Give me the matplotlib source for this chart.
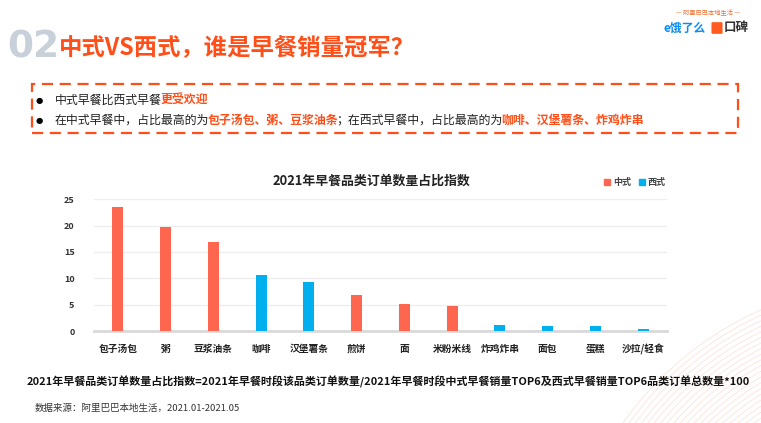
import matplotlib
matplotlib.use('Agg')
import matplotlib.pyplot as plt
from matplotlib.patches import Rectangle, FancyBboxPatch, Circle

plt.rcParams['font.family'] = ['Noto Sans CJK SC', 'DejaVu Sans']

# data
categories = ['包子汤包', '粥', '豆浆油条', '咖啡', '汉堡薯条', '煎饼', '面',
              '米粉米线', '炸鸡炸串', '面包', '蛋糕', '沙拉/轻食']
values = [23.5, 19.7, 16.9, 10.6, 9.3, 6.8, 5.1, 4.7, 1.1, 0.9, 0.9, 0.3]
kinds = ['中式', '中式', '中式', '西式', '西式', '中式', '中式', '中式',
         '西式', '西式', '西式', '西式']
yticks = [0, 5, 10, 15, 20, 25]

RED = '#FF6650'
BLUE = '#00B0EE'
ACCENT = '#FF4E17'
DARK = '#222222'
colors = {'中式': RED, '西式': BLUE}

fig = plt.figure(figsize=(7.61, 4.23), dpi=100)

# faint decorative arcs, bottom right
bg = fig.add_axes([0, 0, 1, 1], zorder=-1)
bg.set_xlim(0, 761)
bg.set_ylim(423, 0)
bg.axis('off')
for r in range(120, 345, 5):
    bg.add_patch(Circle((900, 620), r, fill=False, edgecolor='#FCE4DC',
                        linewidth=0.6))

# header
fig.text(7 / 761, 1 - 48 / 423, '02', fontsize=27, fontweight='bold',
         color='#C8D1D9', va='center', family='DejaVu Sans')
fig.text(59 / 761, 1 - 48 / 423, '中式VS西式，谁是早餐销量冠军？', fontsize=16.8,
         fontweight='bold', color=ACCENT, va='center')

# logo (rough)
fig.text(708 / 761, 1 - 13 / 423, '— 阿里巴巴本地生活 —', fontsize=4.5,
         color='#F07030', ha='center', va='center')
fig.text(664 / 761, 1 - 28 / 423, 'e饿了么', fontsize=8.5, fontweight='bold',
         color='#0C8CF0', ha='left', va='center')
fig.add_artist(FancyBboxPatch((713 / 761, 1 - 33 / 423), 8 / 761, 10 / 423,
                              boxstyle='round,pad=0.002', transform=fig.transFigure,
                              facecolor='#FF5A1F', edgecolor='none'))
fig.text(724 / 761, 1 - 28 / 423, '口碑', fontsize=9, fontweight='bold',
         color='#333333', ha='left', va='center')

# dashed box
box = Rectangle((32 / 761, 1 - 133 / 423), (738 - 32) / 761, (133 - 84) / 423,
                transform=fig.transFigure, fill=False, edgecolor=ACCENT,
                linewidth=1.6, linestyle=(0, (5, 3)))
fig.add_artist(box)


def rich(x, y, parts, size=8.6):
    # place coloured segments one after another on one line
    t = fig.text(x, y, parts[0][0], fontsize=size, color=parts[0][1],
                 fontweight='bold' if parts[0][1] != DARK else 'normal',
                 va='center')
    for txt, col in parts[1:]:
        t = fig.add_artist(plt.Annotation(
            txt, xy=(1, 0.5), xycoords=t, xytext=(-1.2, 0),
            textcoords='offset points', va='center', ha='left',
            fontsize=size, color=col,
            fontweight='bold' if col != DARK else 'normal'))


for by in (100, 120):
    fig.text(39 / 761, 1 - by / 423, '●', fontsize=6, color='black',
             va='center', ha='center', family='DejaVu Sans')
rich(55 / 761, 1 - 100 / 423, [('中式早餐比西式早餐', DARK),
                               ('更受欢迎', ACCENT)])
rich(55 / 761, 1 - 120 / 423, [('在中式早餐中，占比最高的为', DARK),
                               ('包子汤包、粥、豆浆油条', ACCENT),
                               ('；在西式早餐中，占比最高的为', DARK),
                               ('咖啡、汉堡薯条、炸鸡炸串', ACCENT)])

# chart
ax = fig.add_axes([94 / 761, 1 - 331 / 423, (667 - 94) / 761, (331 - 199.3) / 423])
ax.patch.set_alpha(0)
x = range(len(categories))
ax.bar(x, values, width=0.23, color=[colors[k] for k in kinds], zorder=3)
ax.set_xlim(-0.5, len(categories) - 0.5)
ax.set_ylim(0, 25)
ax.set_yticks(yticks)
ax.set_yticklabels([str(v) for v in yticks], fontsize=6.5, fontweight='bold',
                   color='#333333')
ax.set_xticks(list(x))
ax.set_xticklabels(categories, fontsize=7, fontweight='bold', color=DARK)
ax.tick_params(axis='both', length=0)
ax.tick_params(axis='x', pad=9)
ax.tick_params(axis='y', pad=14)
for s in ['top', 'right', 'left']:
    ax.spines[s].set_visible(False)
ax.spines['bottom'].set_color('#D9D9D9')
ax.spines['bottom'].set_linewidth(2)
ax.grid(axis='y', color='#EDEDED', linewidth=0.9, zorder=0)

fig.text(371 / 761, 1 - 181 / 423, '2021年早餐品类订单数量占比指数', fontsize=9.3,
         fontweight='bold', color=DARK, ha='center', va='center')

# legend
for lx, lab in [(607, '中式'), (642, '西式')]:
    fig.add_artist(Rectangle(((lx - 3) / 761, 1 - 185 / 423), 6 / 761, 6 / 423,
                             transform=fig.transFigure, color=colors[lab]))
    fig.text((lx + 6) / 761, 1 - 182 / 423, lab, fontsize=6.5, fontweight='bold',
             color='#444444', va='center')

# footer
fig.text(388 / 761, 1 - 382 / 423,
         '2021年早餐品类订单数量占比指数=2021年早餐时段该品类订单数量/2021年早餐时段中式早餐销量TOP6及西式早餐销量TOP6品类订单总数量*100',
         fontsize=7.95, fontweight='bold', color='#111111', ha='center', va='center')
fig.text(35 / 761, 1 - 408 / 423, '数据来源：阿里巴巴本地生活，2021.01-2021.05',
         fontsize=6.8, color='#333333', va='center')

fig.savefig('out.png', dpi=100)
